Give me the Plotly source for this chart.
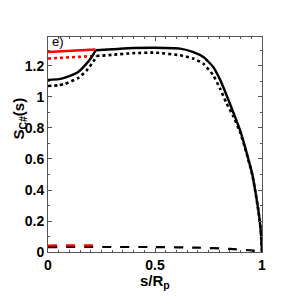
import plotly.graph_objects as go

# Red curves (inner region)
s_red = [0.0, 0.222]
S_red_solid = [1.29, 1.306]
S_red_dot = [1.248, 1.265]
s_red_dash = [0.0, 0.21]
S_red_dash = [0.042, 0.043]

# Black solid curve
s_blk_in = [0.0, 0.05, 0.079, 0.141, 0.18, 0.204, 0.214, 0.222]
S_blk_in = [1.11, 1.115, 1.125, 1.161, 1.215, 1.258, 1.28, 1.302]
s_blk_out = [0.222, 0.3, 0.4, 0.5, 0.617, 0.679, 0.726, 0.772, 0.804, 0.835, 0.866, 0.897, 0.921, 0.940, 0.955, 0.968, 0.983, 0.994, 1.0]
S_blk_out = [1.302, 1.308, 1.316, 1.318, 1.312, 1.290, 1.258, 1.194, 1.112, 1.01, 0.90, 0.788, 0.677, 0.58, 0.50, 0.40, 0.269, 0.14, 0.0]

# Black dotted curve
s_dot_in = [0.0, 0.05, 0.079, 0.141, 0.18, 0.205, 0.217, 0.226]
S_dot_in = [1.071, 1.076, 1.085, 1.122, 1.17, 1.215, 1.24, 1.264]
s_dot_out = [0.226, 0.3, 0.4, 0.5, 0.617, 0.679, 0.726, 0.772, 0.804, 0.835, 0.866, 0.897, 0.921, 0.940, 0.955, 0.968, 0.983, 0.994, 1.0]
S_dot_out = [1.264, 1.272, 1.283, 1.286, 1.269, 1.248, 1.215, 1.14, 1.054, 0.957, 0.875, 0.775, 0.67, 0.575, 0.495, 0.395, 0.267, 0.14, 0.0]

# Black dashed curve
s_dash = [0.0, 0.5, 0.7, 0.85, 0.95, 1.0]
S_dash = [0.032, 0.032, 0.028, 0.02, 0.01, 0.0]

x_ticks = [0, 0.5, 1]
x_ticklabels = ["0", "0.5", "1"]
y_ticks = [0, 0.2, 0.4, 0.6, 0.8, 1.0, 1.2]
y_ticklabels = ["0", "0.2", "0.4", "0.6", "0.8", "1", "1.2"]

RED = "#ff0000"
BLK = "#000000"
FONT = "Liberation Sans, Arial"

fig = go.Figure()
def add(x, y, color, dash, w):
    fig.add_trace(go.Scatter(x=x, y=y, mode="lines",
                             line=dict(color=color, dash=dash, width=w, shape="spline", smoothing=0.5),
                             showlegend=False, hoverinfo="skip"))

add(s_dash, S_dash, BLK, "dash", 2.2)
add(s_red_dash, S_red_dash, RED, "dash", 2.2)
add(s_dot_in, S_dot_in, BLK, "dot", 2.6)
add(s_dot_out, S_dot_out, BLK, "dot", 2.6)
add(s_red, S_red_dot, RED, "dot", 2.6)
add(s_blk_in, S_blk_in, BLK, "solid", 2.4)
add(s_blk_out, S_blk_out, BLK, "solid", 2.4)
add(s_red, S_red_solid, RED, "solid", 2.4)

axis_common = dict(
    showline=True, linecolor="#555555", linewidth=1, mirror="allticks",
    ticks="inside", ticklen=4, tickcolor="#555555", showgrid=False, zeroline=False,
    automargin=False,
    tickfont=dict(family=FONT, size=14, color="black", weight="bold"),
)
fig.update_xaxes(range=[0, 1], tickvals=x_ticks, ticktext=x_ticklabels,
                 minor=dict(dtick=0.05, ticks="inside", ticklen=2, tickcolor="#555555"),
                 **axis_common)
fig.update_yaxes(range=[0, 1.387], tickvals=y_ticks, ticktext=y_ticklabels,
                 minor=dict(dtick=0.1, ticks="inside", ticklen=2, tickcolor="#555555"),
                 **axis_common)

fig.add_annotation(x=-0.185, y=0.62, xref="paper", yref="paper", text="S<sub>C#</sub>(s)",
                   showarrow=False, textangle=-90, xanchor="left", yanchor="middle",
                   font=dict(family=FONT, size=15, color="black", weight="bold"))
fig.add_annotation(x=0.5, y=-0.085, xref="paper", yref="paper", text="s/R<sub>p</sub>",
                   showarrow=False, xanchor="center", yanchor="top",
                   font=dict(family=FONT, size=15, color="black", weight="bold"))
fig.add_annotation(x=0.015, y=0.977, xref="paper", yref="paper", text="e)", showarrow=False,
                   xanchor="left", yanchor="middle", borderpad=0,
                   font=dict(family=FONT, size=13, color="black"))

# page body has an 8px margin, so the figure is sized to the remaining area
fig.update_layout(width=275, height=284, margin=dict(l=40, r=21, t=29, b=40),
                  paper_bgcolor="white", plot_bgcolor="white")
fig.write_html("out.html")
